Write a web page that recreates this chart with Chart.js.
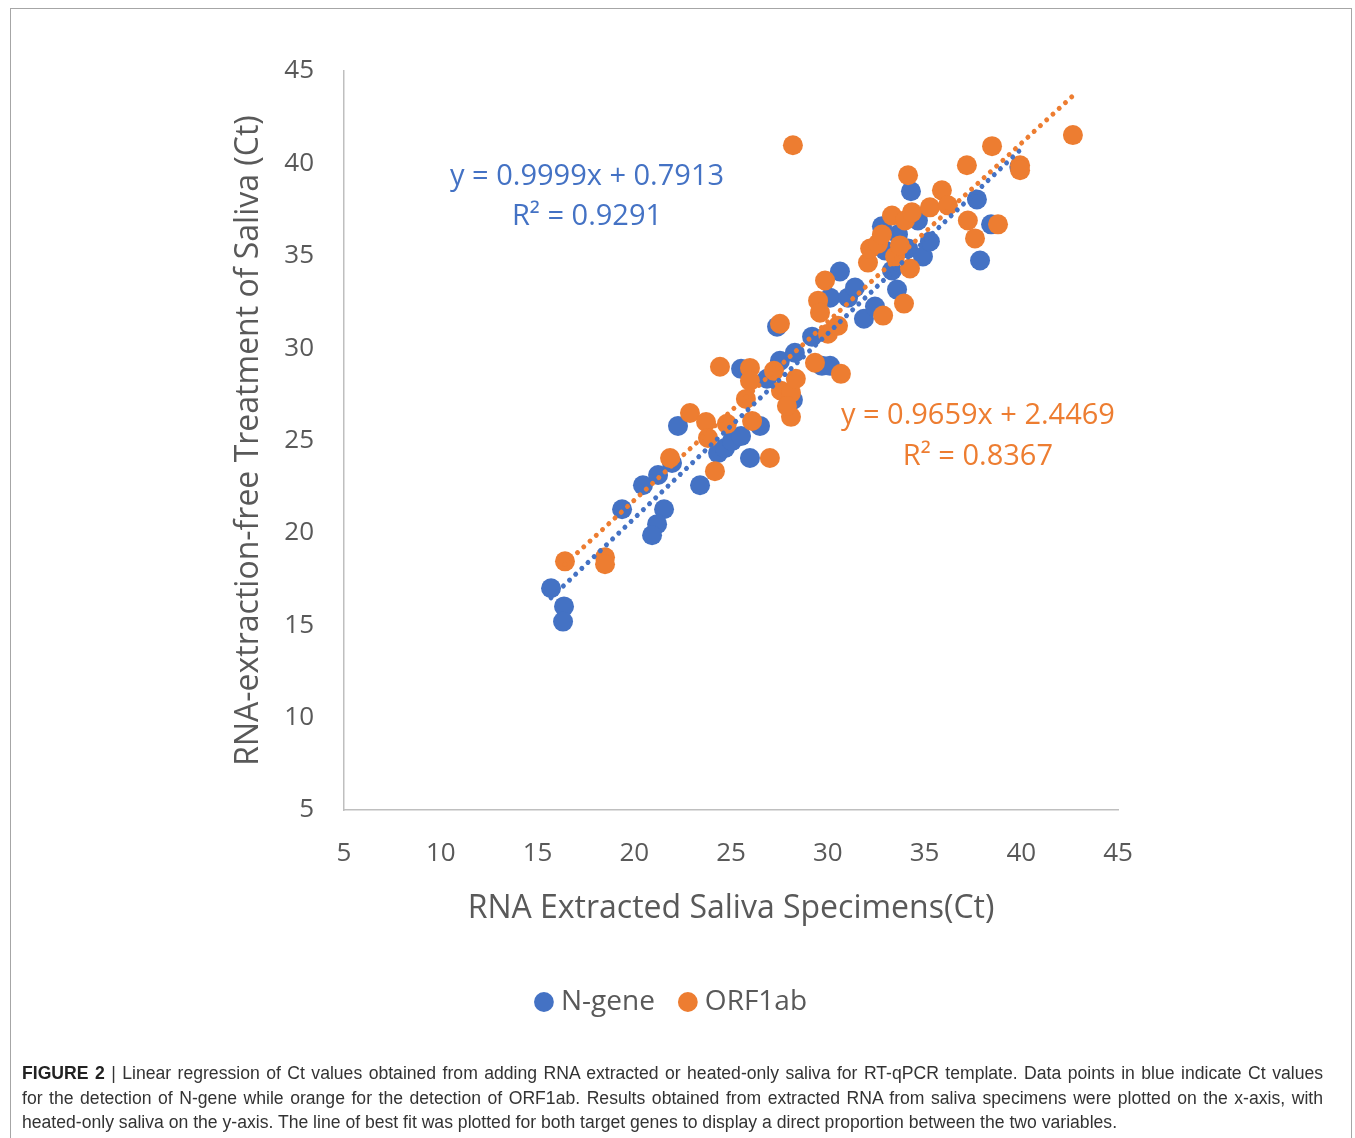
<!DOCTYPE html>
<html>
<head>
<meta charset="utf-8">
<script src="https://cdn.jsdelivr.net/npm/chart.js@4.4.1/dist/chart.umd.min.js"></script>
<style>
  html, body { margin: 0; padding: 0; background: #fff; }
  body { width: 1355px; height: 1138px; position: relative; overflow: hidden; }
  #frame { position: absolute; left: 10px; top: 8px; width: 1342px; height: 1200px; border: 1px solid #a6a6a6; box-sizing: border-box; pointer-events: none; }
  #wrap { position: absolute; left: 0; top: 0; width: 1355px; height: 1060px; }
  #caption { position: absolute; left: 22px; top: 1061px; width: 1301px; font-family: "Liberation Sans", Arial, sans-serif; font-size: 17.6px; line-height: 24.5px; color: #333; }
  #caption div.j { text-align: justify; text-align-last: justify; white-space: nowrap; }
  #caption b { font-weight: bold; color: #222; }
</style>
</head>
<body>
<div id="wrap"><canvas id="c" width="1355" height="1060"></canvas></div>
<div id="frame"></div>
<div id="caption">
  <div class="j"><b>FIGURE 2</b> | Linear regression of Ct values obtained from adding RNA extracted or heated-only saliva for RT-qPCR template. Data points in blue indicate Ct values</div>
  <div class="j">for the detection of N-gene while orange for the detection of ORF1ab. Results obtained from extracted RNA from saliva specimens were plotted on the x-axis, with</div>
  <div>heated-only saliva on the y-axis. The line of best fit was plotted for both target genes to display a direct proportion between the two variables.</div>
</div>
<script>
// ---- Data ----
const seriesNames = ["N-gene", "ORF1ab"];
const nGeneX = [15.7, 16.37, 16.32, 19.37, 20.45, 21.23, 21.54, 21.18, 20.92, 22.26, 21.95, 23.4, 24.33, 24.69, 25.05, 25.52, 25.98, 26.5, 25.52, 27.38, 26.86, 27.53, 28.3, 28.2, 29.19, 29.7, 30.12, 30.12, 30.63, 31.05, 31.41, 31.87, 32.44, 32.8, 32.96, 33.32, 33.58, 33.63, 34.15, 34.3, 34.66, 34.92, 35.28, 37.71, 37.87, 38.44, 39.9];
const nGeneY = [17.0, 16.02, 15.2, 21.28, 22.58, 23.13, 21.28, 20.47, 19.87, 25.79, 23.78, 22.58, 24.32, 24.59, 24.97, 25.24, 24.05, 25.79, 28.88, 31.16, 28.34, 29.31, 29.75, 27.2, 30.62, 29.04, 29.04, 32.73, 34.15, 32.73, 33.28, 31.59, 32.25, 36.59, 35.29, 34.2, 33.17, 36.15, 35.39, 38.49, 36.91, 34.96, 35.77, 38.05, 34.74, 36.7, 39.8];
const orfX = [16.42, 18.49, 18.49, 21.85, 22.88, 23.71, 23.81, 24.17, 24.43, 24.79, 25.77, 25.98, 25.98, 26.09, 27.01, 27.22, 27.53, 27.58, 28.1, 28.2, 28.35, 28.1, 27.89, 29.34, 29.5, 29.6, 29.86, 30.01, 30.53, 30.68, 32.08, 32.19, 32.6, 32.8, 32.86, 33.32, 33.48, 33.73, 33.94, 34.15, 34.25, 33.99, 34.35, 35.28, 35.9, 36.21, 37.19, 37.24, 37.61, 38.49, 38.8, 39.94, 39.94, 42.67];
const orfY = [18.46, 18.68, 18.3, 24.05, 26.49, 26.0, 25.14, 23.34, 28.99, 25.9, 27.25, 28.93, 28.23, 26.06, 24.05, 28.77, 31.32, 27.69, 27.58, 40.98, 28.34, 26.28, 26.87, 29.21, 32.57, 31.92, 33.66, 30.78, 31.21, 28.61, 34.63, 35.39, 35.66, 36.15, 31.76, 37.18, 34.96, 35.56, 32.41, 39.36, 34.31, 36.91, 37.35, 37.62, 38.54, 37.73, 39.9, 36.91, 35.94, 40.93, 36.7, 39.9, 39.63, 41.53];
// Trendline coefficients shown in the figure
const nGeneFit = { slope: 0.9999, intercept: 0.7913, r2: "0.9291" };
const orfFit = { slope: 0.9659, intercept: 2.4469, r2: "0.8367" };
const axisTicks = [5, 10, 15, 20, 25, 30, 35, 40, 45];
const xTitle = "RNA Extracted Saliva Specimens(Ct)";
const yTitle = "RNA-extraction-free Treatment of Saliva (Ct)";

const BLUE = "#4472C4", ORANGE = "#ED7D31", TXT = "#595959";
const FONT = "Open Sans";

function pts(xs, ys) { return xs.map((x, i) => ({ x: x, y: ys[i] })); }
function trend(xs, fit) {
  const lo = Math.min(...xs), hi = Math.max(...xs);
  return [{ x: lo, y: fit.slope * lo + fit.intercept }, { x: hi, y: fit.slope * hi + fit.intercept }];
}

const labelsPlugin = {
  id: 'eqLabels',
  afterDatasetsDraw(chart) {
    const { ctx, scales: { x, y } } = chart;
    const items = [
      { t: "y = " + nGeneFit.slope + "x + " + nGeneFit.intercept, px: 17.56, py: 39.30, c: BLUE },
      { t: "R² = " + nGeneFit.r2, px: 17.56, py: 37.13, c: BLUE },
      { t: "y = " + orfFit.slope + "x + " + orfFit.intercept, px: 37.76, py: 26.33, c: ORANGE },
      { t: "R² = " + orfFit.r2, px: 37.76, py: 24.10, c: ORANGE }
    ];
    ctx.save();
    ctx.font = "29px '" + FONT + "'";
    ctx.textAlign = "center";
    ctx.textBaseline = "middle";
    items.forEach(it => { ctx.fillStyle = it.c; ctx.fillText(it.t, x.getPixelForValue(it.px), y.getPixelForValue(it.py)); });
    ctx.restore();
  }
};

new Chart(document.getElementById('c'), {
  type: 'scatter',
  data: {
    datasets: [
      { label: seriesNames[0], data: pts(nGeneX, nGeneY), backgroundColor: BLUE, borderColor: BLUE, pointRadius: 10, pointBorderWidth: 0, order: 3 },
      { label: seriesNames[1], data: pts(orfX, orfY), backgroundColor: ORANGE, borderColor: ORANGE, pointRadius: 10, pointBorderWidth: 0, order: 2 },
      { type: 'line', label: 'trend-n', data: trend(nGeneX, nGeneFit), borderColor: BLUE, borderWidth: 5, borderDash: [0.01, 8.5], borderCapStyle: 'round', pointRadius: 0, fill: false, order: 1 },
      { type: 'line', label: 'trend-o', data: trend(orfX, orfFit), borderColor: ORANGE, borderWidth: 5, borderDash: [0.01, 8.5], borderCapStyle: 'round', pointRadius: 0, fill: false, order: 0 }
    ]
  },
  options: {
    responsive: false,
    animation: false,
    layout: { padding: { left: 230, right: 237, top: 71, bottom: 34 } },
    plugins: {
      tooltip: { enabled: false },
      legend: {
        position: 'bottom',
        labels: {
          filter: (item) => item.datasetIndex < 2,
          sort: (a, b) => a.datasetIndex - b.datasetIndex,
          usePointStyle: true, pointStyle: 'circle', boxWidth: 6, boxHeight: 14,
          font: { family: FONT, size: 28 }, color: TXT, padding: 30
        }
      }
    },
    scales: {
      x: {
        type: 'linear', min: 5, max: 45,
        afterBuildTicks: (s) => { s.ticks = axisTicks.map(v => ({ value: v })); },
        afterFit: (s) => { s.height = 148; },
        ticks: { font: { family: FONT, size: 26 }, color: TXT, padding: 28 },
        grid: { display: false, drawTicks: false },
        border: { display: true, color: '#bfbfbf', width: 1.5 },
        title: { display: true, text: xTitle, font: { family: FONT, size: 32 }, color: TXT, padding: { top: 0, bottom: 30 } }
      },
      y: {
        type: 'linear', min: 5, max: 45,
        afterBuildTicks: (s) => { s.ticks = axisTicks.map(v => ({ value: v })); },
        afterFit: (s) => { s.width = 114; },
        ticks: { font: { family: FONT, size: 26 }, color: TXT, padding: 30 },
        grid: { display: false, drawTicks: false },
        border: { display: true, color: '#bfbfbf', width: 1.5 },
        title: { display: true, text: yTitle, font: { family: FONT, size: 32 }, color: TXT, padding: { top: 0, bottom: 0 } }
      }
    }
  },
  plugins: [labelsPlugin]
});
</script>
</body>
</html>
